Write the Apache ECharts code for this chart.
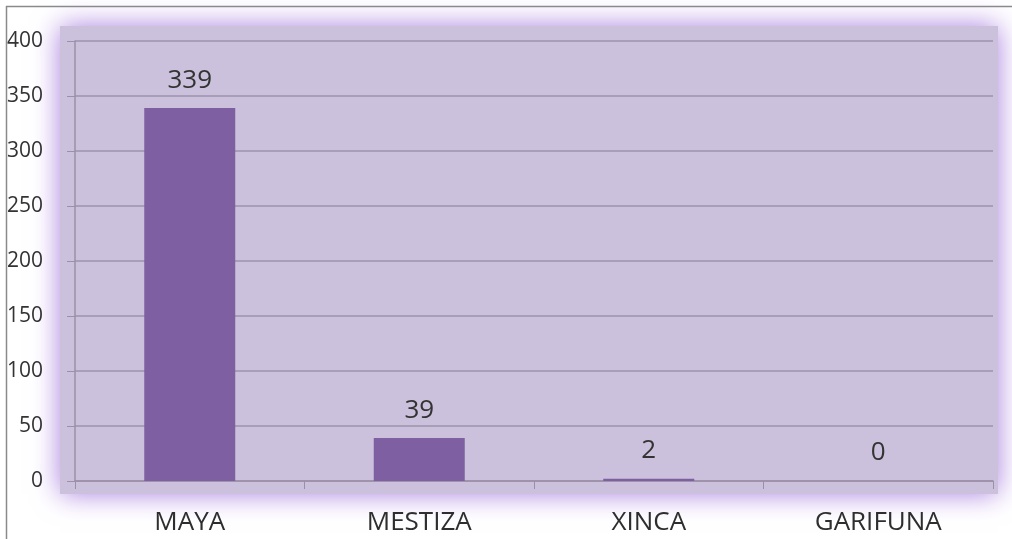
<!DOCTYPE html>
<html><head><meta charset="utf-8">
<script src="https://cdn.jsdelivr.net/npm/echarts@6/dist/echarts.min.js"></script>
<style>html,body{margin:0;padding:0;background:#fff}#c{width:1012px;height:539px}</style>
</head><body><div id="c"></div>
<script>
const categories = ['MAYA', 'MESTIZA', 'XINCA', 'GARIFUNA'];
const values = [339, 39, 2, 0];
const yTicks = [0, 50, 100, 150, 200, 250, 300, 350, 400];

const chart = echarts.init(document.getElementById('c'), null, {renderer: 'canvas'});
const font = '"Open Sans", "Liberation Sans", sans-serif';
chart.setOption({
  animation: false,
  backgroundColor: '#ffffff',
  graphic: [
    {type: 'rect', z: -10, shape: {x: 60, y: 26, width: 938, height: 468},
     style: {fill: '#cbc1dc', shadowBlur: 26, shadowColor: '#a97fdf'}},
    {type: 'line', z: 100, shape: {x1: 6, y1: 6.5, x2: 1012, y2: 6.5}, style: {stroke: '#8a8a8a', lineWidth: 1.5}},
    {type: 'line', z: 100, shape: {x1: 6.5, y1: 6, x2: 6.5, y2: 539}, style: {stroke: '#8a8a8a', lineWidth: 1.5}}
  ],
  grid: {left: 75, right: 19, top: 41, bottom: 58, containLabel: false},
  xAxis: {
    type: 'category', data: categories,
    axisLine: {lineStyle: {color: '#9a90a8', width: 1.5}},
    axisTick: {show: true, length: 8, lineStyle: {color: '#9a90a8'}},
    axisLabel: {margin: 29, color: '#2e2e2e', fontSize: 26, fontFamily: font}
  },
  yAxis: {
    type: 'value', min: yTicks[0], max: yTicks[yTicks.length - 1], interval: 50,
    axisLine: {show: true, lineStyle: {color: '#9a90a8', width: 1.5}},
    axisTick: {show: true, length: 8, lineStyle: {color: '#9a90a8'}},
    splitLine: {lineStyle: {color: '#9d92ab', width: 1.5}},
    axisLabel: {margin: 32, color: '#333', fontSize: 21, fontFamily: font}
  },
  series: [{
    type: 'bar', data: values, barWidth: 91,
    itemStyle: {color: '#7e5fa1'},
    label: {show: true, position: 'top', distance: 15, color: '#333', fontSize: 26, fontFamily: font}
  }]
});
</script></body></html>
